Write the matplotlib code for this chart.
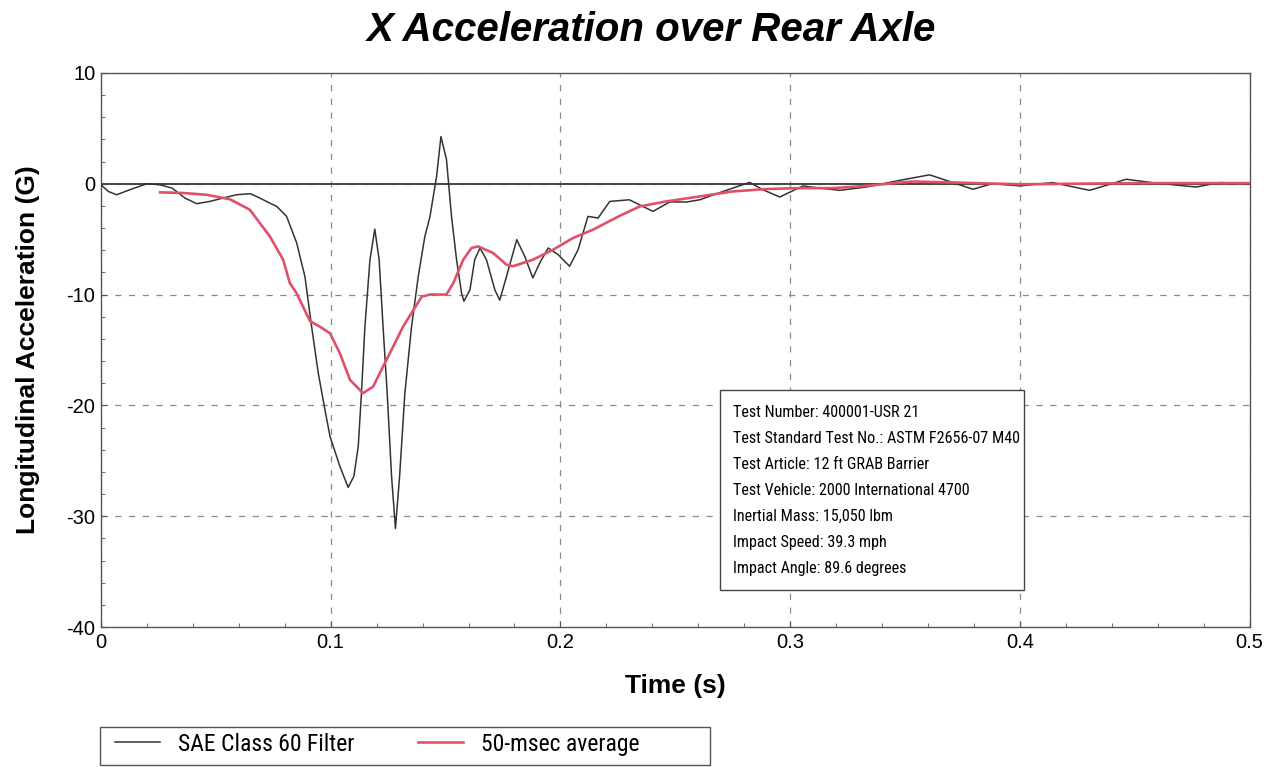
import matplotlib.pyplot as plt
from matplotlib.ticker import MultipleLocator
from matplotlib.patches import Rectangle
from matplotlib import font_manager

# Values (time in s, acceleration in G)
sae_t = [0, 0.0032, 0.0068, 0.0126, 0.02, 0.0257, 0.031, 0.0366, 0.0416, 0.0474, 0.053,
         0.059, 0.065, 0.0692, 0.0735, 0.0765, 0.0808, 0.0852, 0.0888, 0.0917, 0.0946,
         0.0975, 0.0997, 0.104, 0.1076, 0.1101, 0.112, 0.1134, 0.1149, 0.1171, 0.1192,
         0.1211, 0.1228, 0.1246, 0.1265, 0.1282, 0.130, 0.1323, 0.1352, 0.1381, 0.141,
         0.1432, 0.1461, 0.148, 0.1504, 0.1526, 0.1548, 0.157, 0.158, 0.1606, 0.1627,
         0.165, 0.1678, 0.1715, 0.1736, 0.1765, 0.181, 0.1845, 0.188, 0.191, 0.1947,
         0.199, 0.204, 0.2077, 0.212, 0.2164, 0.2215, 0.230, 0.2403, 0.2476, 0.255,
         0.2607, 0.2708, 0.2824, 0.2882, 0.2955, 0.3056, 0.3129, 0.3216, 0.3332, 0.342,
         0.3477, 0.3607, 0.368, 0.3796, 0.388, 0.40, 0.4143, 0.4304, 0.4463, 0.4594,
         0.4768, 0.487, 0.4986]
sae_g = [-0.1, -0.7, -1.0, -0.54, 0, -0.1, -0.4, -1.3, -1.8, -1.6, -1.3,
         -1.0, -0.9, -1.3, -1.75, -2.05, -2.95, -5.35, -8.4, -12.9, -17.1,
         -20.4, -22.8, -25.5, -27.4, -26.4, -23.7, -18.9, -12.9, -6.86, -4.1,
         -6.86, -12.9, -18.9, -26.4, -31.1, -26.4, -18.9, -12.9, -8.4, -4.75,
         -3.0, 0.66, 4.25, 2.2, -2.95, -6.86, -9.9, -10.6, -9.6, -6.86,
         -5.8, -6.86, -9.6, -10.5, -8.4, -5.05, -6.56, -8.5, -7.16, -5.8,
         -6.4, -7.45, -5.96, -2.95, -3.1, -1.6, -1.45, -2.5, -1.65, -1.65,
         -1.45, -0.7, 0.12, -0.55, -1.2, -0.2, -0.4, -0.6, -0.3, 0.06,
         0.3, 0.8, 0.3, -0.5, 0, -0.2, 0.1, -0.6, 0.4, 0.05,
         -0.3, 0.1, 0.05]

avg_t = [0.0257, 0.0358, 0.046, 0.0561, 0.0648, 0.0735, 0.0793, 0.0822, 0.0852, 0.091,
         0.0953, 0.0997, 0.104, 0.1084, 0.1141, 0.1185, 0.1228, 0.1272, 0.1315, 0.1396,
         0.1432, 0.1504, 0.1533, 0.1577, 0.1613, 0.1642, 0.1707, 0.1765, 0.1794, 0.188,
         0.1968, 0.2055, 0.2142, 0.2258, 0.2346, 0.246, 0.2607, 0.275, 0.2897, 0.304,
         0.3187, 0.333, 0.3477, 0.3535, 0.40, 0.45, 0.5]
avg_g = [-0.78, -0.84, -1.0, -1.4, -2.35, -4.75, -6.86, -8.96, -9.9, -12.4,
         -12.9, -13.5, -15.3, -17.7, -18.9, -18.3, -16.5, -14.7, -12.9, -10.2,
         -10.0, -10.0, -9.0, -6.86, -5.8, -5.66, -6.25, -7.3, -7.45, -6.86,
         -5.96, -4.9, -4.15, -2.9, -2.05, -1.6, -1.15, -0.7, -0.48, -0.4,
         -0.4, -0.2, 0.1, 0.2, -0.05, 0.05, 0.05]

info_lines = ["Test Number: 400001-USR 21",
              "Test Standard Test No.: ASTM F2656-07 M40",
              "Test Article: 12 ft GRAB Barrier",
              "Test Vehicle: 2000 International 4700",
              "Inertial Mass: 15,050 lbm",
              "Impact Speed: 39.3 mph",
              "Impact Angle: 89.6 degrees"]

plt.rcParams['font.family'] = ['Liberation Sans', 'DejaVu Sans']
plt.rcParams['axes.unicode_minus'] = False
names = {f.name for f in font_manager.fontManager.ttflist}
narrow = 'Liberation Sans'
for cand in ['Liberation Sans Narrow', 'Arial Narrow', 'Roboto Condensed', 'Roboto']:
    if cand in names:
        narrow = cand
        break

fig = plt.figure(figsize=(12.75, 7.67), dpi=100)
ax = fig.add_axes([0.0792, 0.1825, 0.9008, 0.7225])

ax.axhline(0, color='#444444', lw=1.4, zorder=2)
ax.plot(sae_t, sae_g, color='#333333', lw=1.1, zorder=3, label='SAE Class 60 Filter')
ax.plot(avg_t, avg_g, color='#e0506a', lw=1.9, zorder=4, label='50-msec average')

ax.set_xlim(0, 0.5)
ax.set_ylim(-40, 10)
ax.xaxis.set_major_locator(MultipleLocator(0.1))
ax.xaxis.set_minor_locator(MultipleLocator(0.02))
ax.yaxis.set_major_locator(MultipleLocator(10))
ax.yaxis.set_minor_locator(MultipleLocator(2))
ax.set_xticks([0, 0.1, 0.2, 0.3, 0.4, 0.5], ['0', '0.1', '0.2', '0.3', '0.4', '0.5'])
ax.tick_params(which='both', direction='in', labelsize=14.5, color='#555555', pad=4)
ax.tick_params(which='major', length=4)
ax.tick_params(which='minor', length=3)
ax.grid(True, which='major', ls=(0, (5, 6)), color='#8a8a8a', lw=0.9)
for s in ax.spines.values():
    s.set_color('#555555')
    s.set_linewidth(1.0)

ax.set_xlabel('Time (s)', fontsize=19, fontweight='bold', labelpad=16)
ax.set_ylabel('Longitudinal Acceleration (G)', fontsize=19, fontweight='bold', labelpad=19)
fig.text(0.511, 0.961, 'X Acceleration over Rear Axle', fontsize=29, fontweight='bold',
         fontstyle='italic', ha='center', va='center')

# info box
ax.add_patch(Rectangle((0.539, 0.067), 0.265, 0.361, transform=ax.transAxes,
                       fc='white', ec='#444444', lw=1.0, zorder=6))
ax.text(0.550, 0.401, "\n".join(info_lines), transform=ax.transAxes, ha='left', va='top',
        fontsize=11.6, family=narrow, linespacing=1.92, zorder=7)

# legend below the axes
h, l = ax.get_legend_handles_labels()
fig.patches.append(Rectangle((100 / 1275, 2 / 767), 610 / 1275, 38 / 767,
                             transform=fig.transFigure, fc='white', ec='#555555', lw=1.0))
fig.legend(h, l, loc='lower left', bbox_to_anchor=(106 / 1275, 2 / 767), ncol=2,
           frameon=False, prop={'family': narrow, 'size': 17}, handlelength=1.9,
           handletextpad=0.75, columnspacing=2.7, borderaxespad=0)

fig.savefig('out.png', dpi=100)
